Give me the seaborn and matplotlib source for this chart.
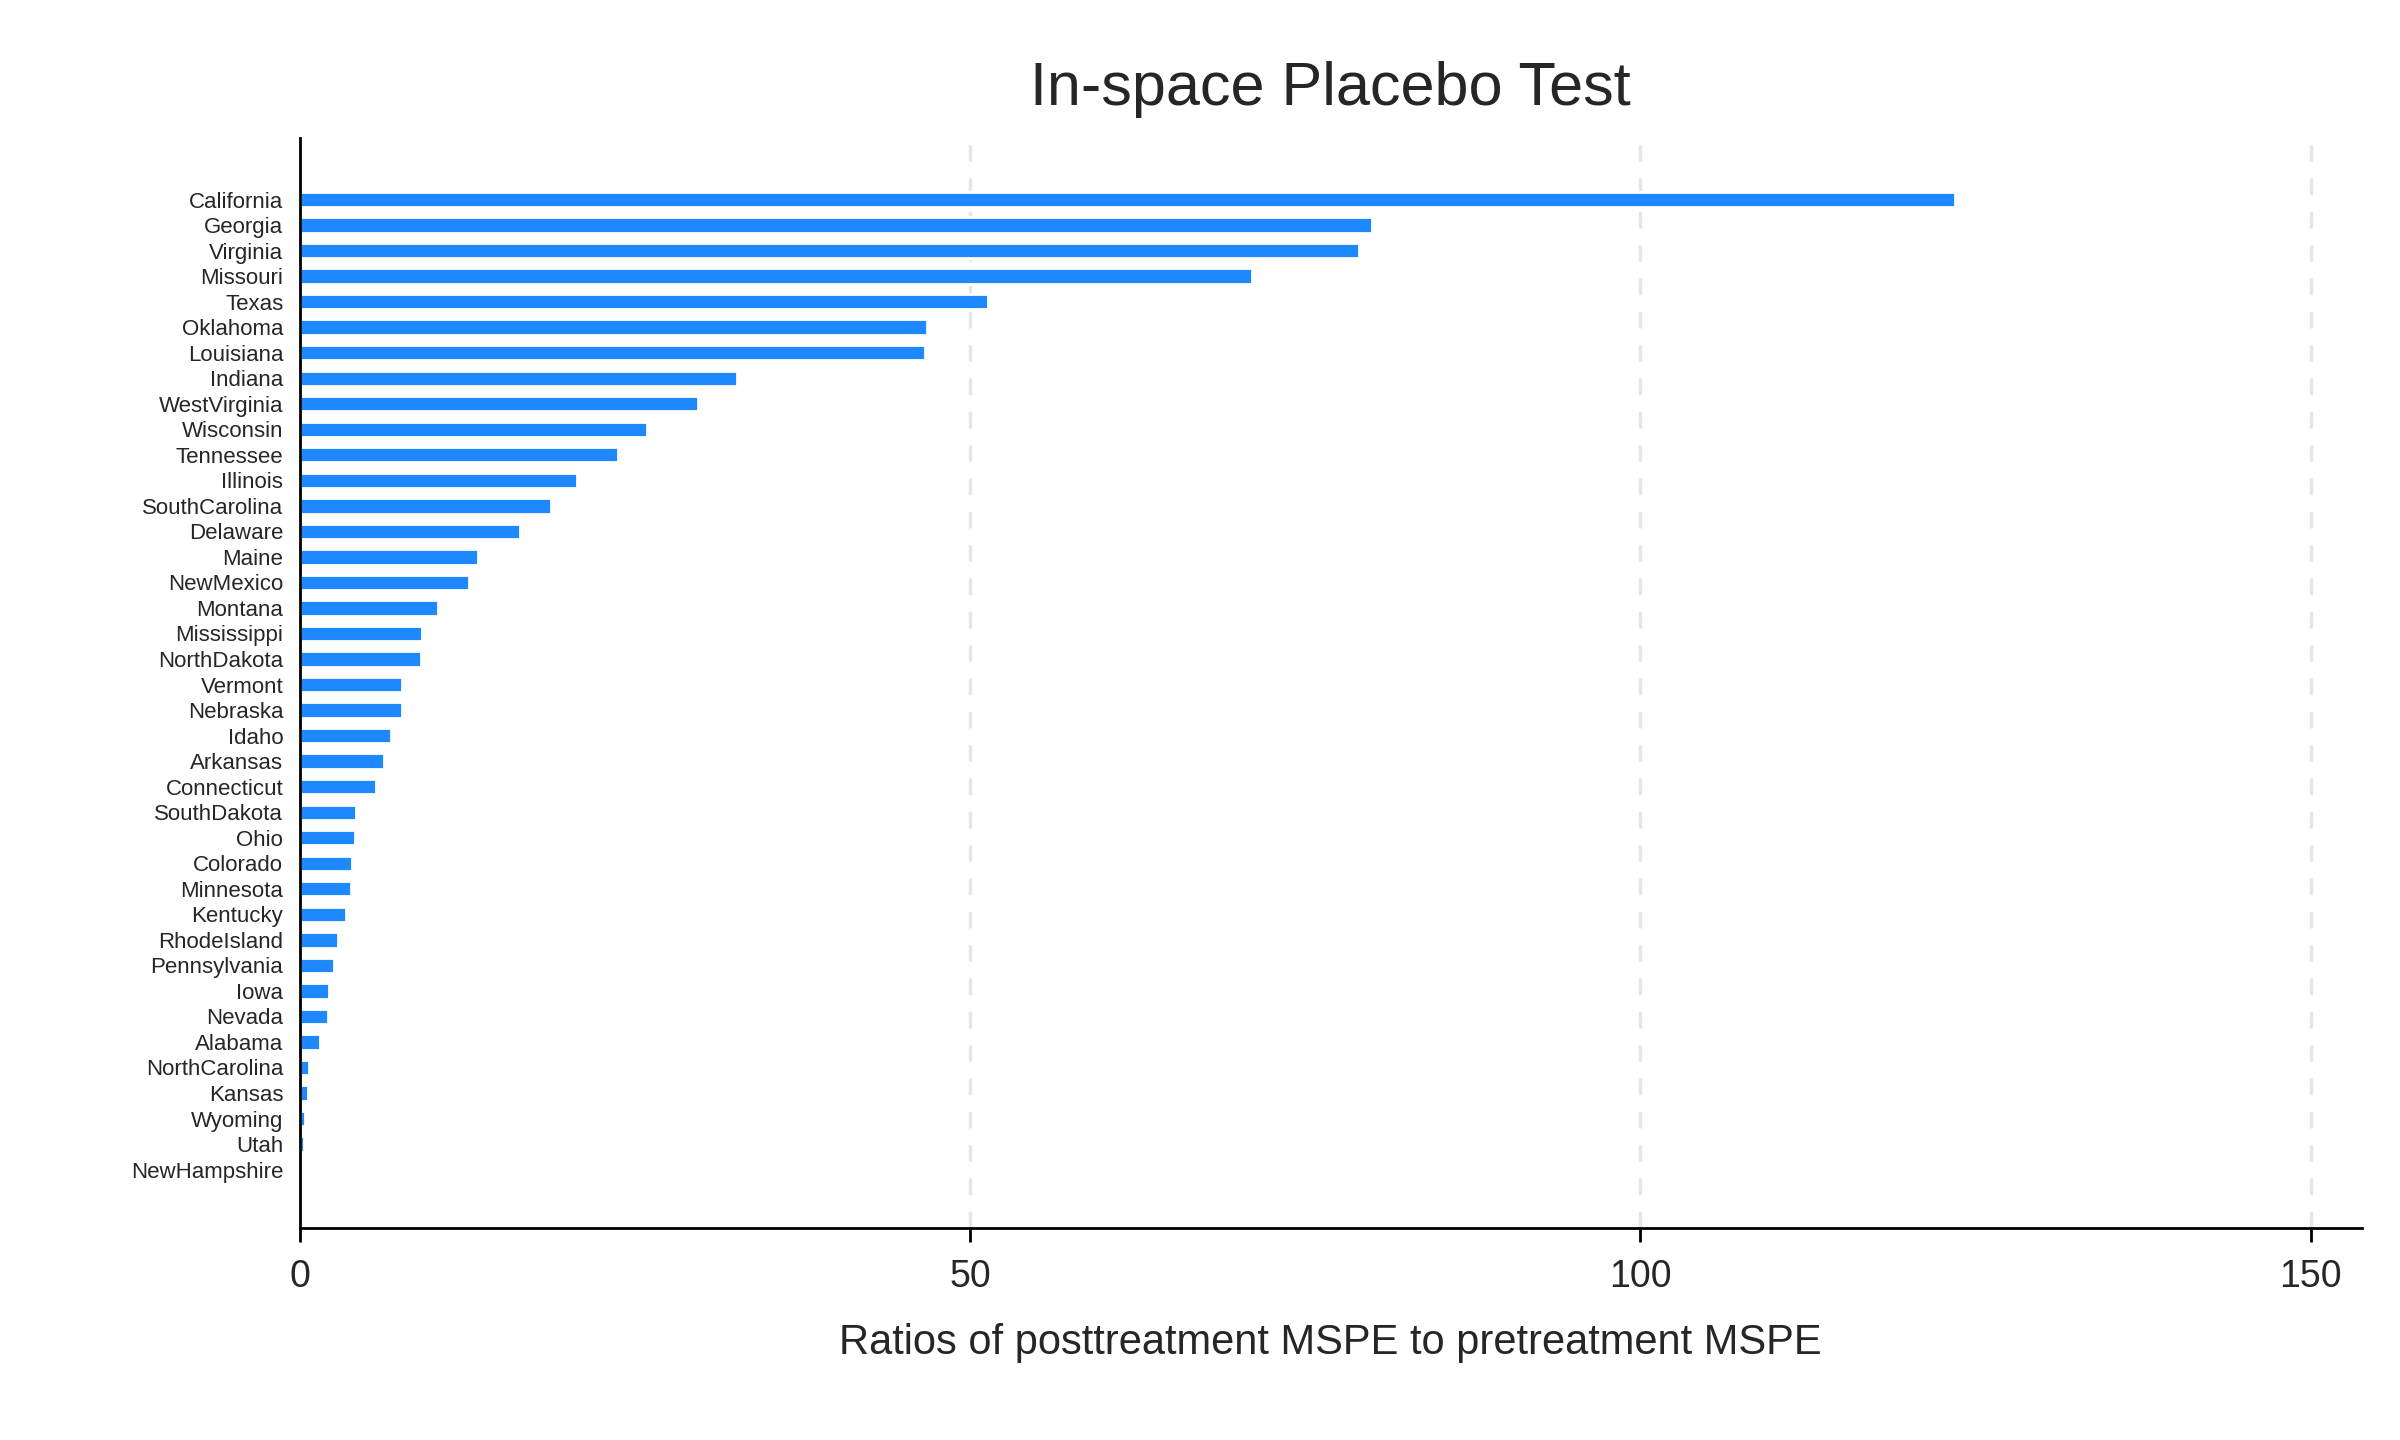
import matplotlib
matplotlib.use("Agg")
import matplotlib.pyplot as plt
import seaborn as sns
import pandas as pd

states = ["California", "Georgia", "Virginia", "Missouri", "Texas", "Oklahoma", "Louisiana",
          "Indiana", "WestVirginia", "Wisconsin", "Tennessee", "Illinois", "SouthCarolina",
          "Delaware", "Maine", "NewMexico", "Montana", "Mississippi", "NorthDakota", "Vermont",
          "Nebraska", "Idaho", "Arkansas", "Connecticut", "SouthDakota", "Ohio", "Colorado",
          "Minnesota", "Kentucky", "RhodeIsland", "Pennsylvania", "Iowa", "Nevada", "Alabama",
          "NorthCarolina", "Kansas", "Wyoming", "Utah", "NewHampshire"]
ratios = [123.5, 80.0, 79.0, 71.0, 51.3, 46.8, 46.6, 32.6, 29.7, 25.9, 23.7, 20.7, 18.7,
          16.4, 13.3, 12.6, 10.3, 9.1, 9.0, 7.6, 7.6, 6.8, 6.3, 5.7, 4.2, 4.1, 3.9,
          3.8, 3.4, 2.8, 2.5, 2.2, 2.1, 1.5, 0.7, 0.6, 0.35, 0.3, 0.15]
x_ticks = [0, 50, 100, 150]

df = pd.DataFrame({"state": states, "ratio": ratios})

sns.set_style("white")
plt.rcParams["font.family"] = ["Liberation Sans", "DejaVu Sans"]

fig = plt.figure(figsize=(12, 7.2), dpi=200)
ax = fig.add_axes([0.125, 0.147, 0.859, 0.757])
sns.barplot(data=df, x="ratio", y="state", color="#1E88FF", saturation=1, width=0.6, ax=ax)

ax.set_xlim(0, 153.8)
ax.set_ylim(len(states) - 1 + 2.3, -2.4)
ax.set_xticks(x_ticks)
for t in x_ticks[1:]:
    ax.axvline(t, color="#e6e6e6", linestyle=(0, (5, 5)), linewidth=1.2, zorder=0)

for s in ["top", "right"]:
    ax.spines[s].set_visible(False)
for s in ["left", "bottom"]:
    ax.spines[s].set_color("black")
    ax.spines[s].set_linewidth(1)

ax.tick_params(axis="y", labelsize=8, length=0, pad=6)
ax.tick_params(axis="x", labelsize=13.5, length=5, width=1, color="black", bottom=True, pad=6)
ax.set_ylabel("")
ax.set_xlabel("Ratios of posttreatment MSPE to pretreatment MSPE", fontsize=15, labelpad=10)
ax.set_title("In-space Placebo Test", fontsize=22, pad=12)

fig.savefig("out.png", dpi=200)
